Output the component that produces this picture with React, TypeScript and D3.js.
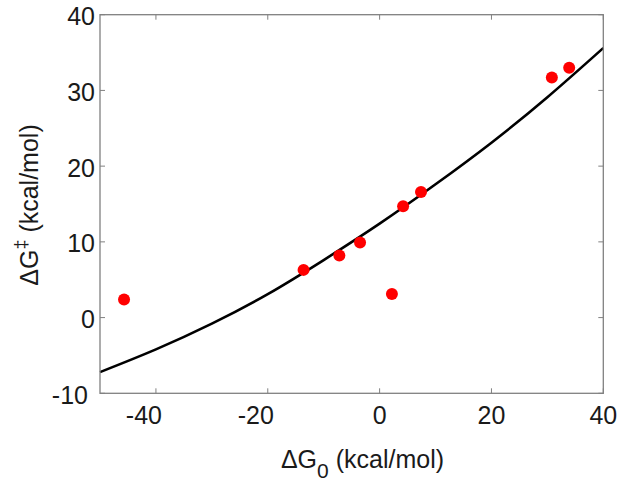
import * as d3 from "d3";

// scatter points (ΔG0, ΔG‡)
const pointX = [-45.7, -13.6, -7.2, -3.5, 2.2, 4.2, 7.4, 30.8, 33.9];
const pointY = [2.4, 6.3, 8.2, 9.9, 3.1, 14.7, 16.6, 31.7, 33.0];

// fitted curve
const curveX = [-50, -40, -30, -20, -10, 0, 10, 20, 30, 40];
const curveY = [-7.2, -4.2, -0.8, 3.1, 7.6, 12.4, 17.6, 23.1, 29.1, 35.6];

const xTicks = [-40, -20, 0, 20, 40];
const yTicks = [-10, 0, 10, 20, 30, 40];

const width = 624;
const height = 487;
const margin = { top: 14.7, right: 20.7, bottom: 93.7, left: 100 };
const font = "'Liberation Sans', Arial, sans-serif";
const fs = 25;

export default function App() {
  const x = d3
    .scaleLinear()
    .domain([-50, 40])
    .range([margin.left, width - margin.right]);
  const y = d3
    .scaleLinear()
    .domain([-10, 40])
    .range([height - margin.bottom, margin.top]);

  const line = d3
    .line<number>()
    .x((d, i) => x(curveX[i]))
    .y((d) => y(d))
    .curve(d3.curveNatural);

  const x0 = x.range()[0];
  const x1 = x.range()[1];
  const y0 = y.range()[0];
  const y1 = y.range()[1];
  const tick = 5;
  const axisColor = "#808080";

  return (
    <svg
      width={width}
      height={height}
      style={{ position: "fixed", left: 0, top: 0, background: "#fff" }}
    >
      {/* curve */}
      <path d={line(curveY) || ""} fill="none" stroke="#000" strokeWidth={2.6} />

      {/* points */}
      {pointX.map((px, i) => (
        <circle key={i} cx={x(px)} cy={y(pointY[i])} r={6} fill="#ff0000" />
      ))}

      {/* box */}
      <rect
        x={x0}
        y={y1}
        width={x1 - x0}
        height={y0 - y1}
        fill="none"
        stroke={axisColor}
        strokeWidth={1.3}
      />

      {/* x ticks */}
      {xTicks.map((t) => (
        <g key={"x" + t}>
          <line x1={x(t)} x2={x(t)} y1={y0} y2={y0 - tick} stroke={axisColor} />
          <line x1={x(t)} x2={x(t)} y1={y1} y2={y1 + tick} stroke={axisColor} />
          <text
            x={x(t)}
            dx={t < 0 ? -12 : 0}
            y={423.5}
            textAnchor="middle"
            fontFamily={font}
            fontSize={fs}
            fill="#1a1a1a"
          >
            {t}
          </text>
        </g>
      ))}

      {/* y ticks */}
      {yTicks.map((t) => (
        <g key={"y" + t}>
          <line x1={x0} x2={x0 + tick} y1={y(t)} y2={y(t)} stroke={axisColor} />
          <line x1={x1} x2={x1 - tick} y1={y(t)} y2={y(t)} stroke={axisColor} />
          <text
            x={95}
            dx={t < 0 ? -7 : 0}
            y={y(t) + 10.5}
            textAnchor="end"
            fontFamily={font}
            fontSize={fs}
            fill="#1a1a1a"
          >
            {t}
          </text>
        </g>
      ))}

      {/* x label */}
      <text
        x={362.5}
        y={468.3}
        textAnchor="middle"
        fontFamily={font}
        fontSize={fs}
        fill="#1a1a1a"
      >
        ΔG
        <tspan fontSize={21} dy={10}>
          0
        </tspan>
        <tspan dy={-10}> (kcal/mol)</tspan>
      </text>

      {/* y label */}
      <text
        transform={`translate(37.5,205) rotate(-90)`}
        textAnchor="middle"
        fontFamily={font}
        fontSize={fs}
        fill="#1a1a1a"
      >
        ΔG
        <tspan fontSize={18} dy={-11}>
          ‡
        </tspan>
        <tspan dy={11}> (kcal/mol)</tspan>
      </text>
    </svg>
  );
}
